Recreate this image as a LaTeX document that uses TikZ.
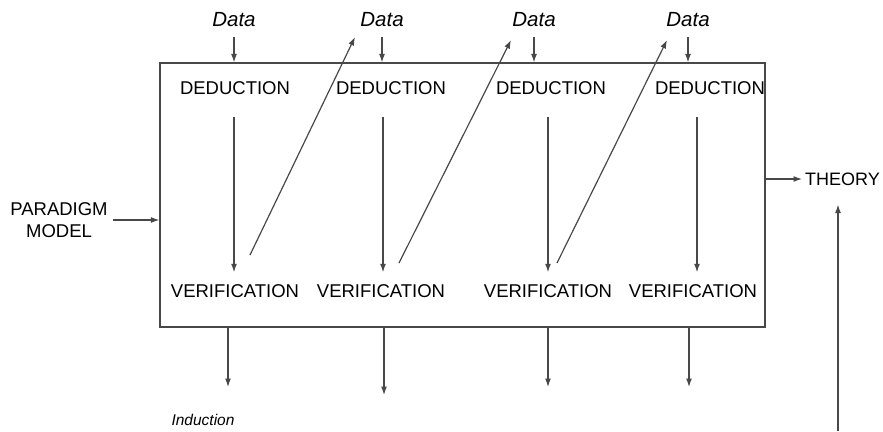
\documentclass[tikz,border=0pt]{standalone}
\usepackage{fontspec}
\setsansfont{Liberation Sans}
\usetikzlibrary{positioning,calc,arrows.meta}
\definecolor{lineg}{RGB}{72,72,72}

\begin{document}
\begin{tikzpicture}[x=1pt,y=-1pt,
  arr/.style={draw=lineg, line width=1.2pt, -{Latex[length=8.5pt,width=6pt]}},
  caps/.style={font=\sffamily\fontsize{18.5}{22}\selectfont, inner sep=0pt, align=center},
  itl/.style={font=\sffamily\itshape\fontsize{20.5}{22}\selectfont, inner sep=0pt}]
\useasboundingbox (0,0) rectangle (883,431);

\node[draw=lineg, line width=1.2pt, minimum width=605pt, minimum height=264pt, inner sep=0pt] (frame) at (462.5,195) {};

\foreach \i/\x in {1/234,2/382,3/534,4/688}
  \node[itl] (d\i) at (\x,20) {Data};
\foreach \i/\x in {1/235,2/391,3/551,4/710}
  \node[caps] (ded\i) at (\x,88) {DEDUCTION};
\foreach \i/\x in {1/235,2/381,3/548,4/693}
  \node[caps] (ver\i) at (\x,291) {VERIFICATION};

\node[caps] (paradigm) at (59,220) {PARADIGM\\MODEL};
\node[caps, font=\sffamily\fontsize{18}{22}\selectfont, anchor=west] (theory) at (805,179) {THEORY};
\node[font=\sffamily\itshape\fontsize{15.5}{18}\selectfont, inner sep=0pt] (induct) at (203,420) {Induction};

% data into the frame
\foreach \i in {1,...,4}
  \draw[arr] ($(d\i.south)+(0,10)$) -- (d\i.south |- frame.north);

% deduction down to verification
\foreach \i/\dx in {1/-1,2/2,3/0,4/4}
  \draw[arr] ($(ded\i.south -| ver\i)+(\dx,22)$) -- ($(ver\i.north)+(\dx,-12)$);

% verification back up to the next data
\foreach \i/\j/\sx/\sy/\tx/\ty in {1/2/15/-36/-27/17, 2/3/18/-28/-23/20, 3/4/9/-28/-21/20}
  \draw[arr] ($(ver\i)+(\sx,\sy)$) -- ($(d\j)+(\tx,\ty)$);

% out of the frame
\foreach \i/\x/\y in {1/228/387,2/384/395,3/548/387,4/689/387} {
  \coordinate (out\i) at (\x,\y);
  \draw[arr] (out\i |- frame.south) -- (out\i);
}

\draw[arr] ($(paradigm.east)+(5,0)$) -- (paradigm.east -| frame.west);
\draw[arr] (frame.east |- theory) -- ($(theory.west)+(-3,0)$);
\coordinate (base) at (838,431);
\draw[arr] (base) -- ($(base |- theory.south)+(0,19)$);
\end{tikzpicture}
\end{document}
